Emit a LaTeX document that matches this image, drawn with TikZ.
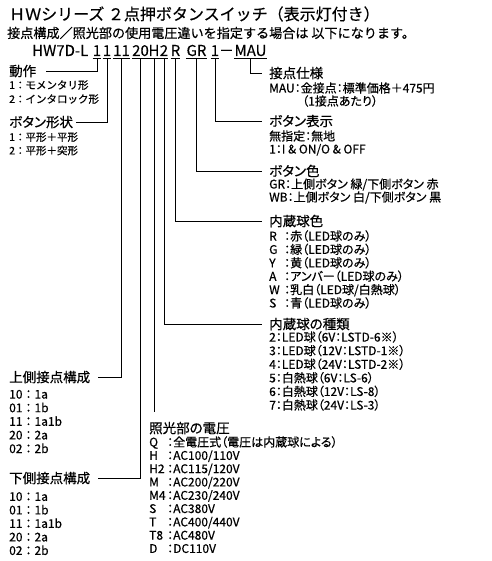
\documentclass[tikz,border=0pt]{standalone}
\usepackage{fontspec}
\setmainfont{Noto Sans CJK JP}[FakeBold=0.5]
\newfontfamily\jpprop{Noto Sans CJK JP}[RawFeature=+palt, FakeBold=0.5]
\newfontfamily\codefont{Noto Sans CJK JP}[FakeBold=0.2]
\usetikzlibrary{positioning}

\newcommand\colkey[2]{\makebox[#1][l]{#2}}

\tikzset{
  hdr/.style={anchor=west, inner sep=0pt, font=\jpprop\fontsize{13.5}{16}\selectfont, text height=11.9pt, text depth=1.6pt},
  itm/.style={anchor=west, inner sep=0pt, font=\fontsize{10.5}{13}\selectfont, text height=9.2pt, text depth=1.3pt},
  citm/.style={itm, font=\fontsize{12}{14}\selectfont, text height=9.6pt, text depth=1.4pt},
  ritm/.style={anchor=west, inner sep=0pt, font=\jpprop\fontsize{12}{14}\selectfont, text height=10.5pt, text depth=1.4pt},
  code/.style={anchor=base, inner xsep=0pt, inner ysep=2.5pt, text depth=0pt, font=\codefont\fontsize{15}{18}\selectfont},
  lead/.style={line width=0.9pt},
}

\begin{document}
\begin{tikzpicture}[x=1pt, y=-1pt]
\useasboundingbox (0,0) rectangle (491,561);

% title lines
\node[anchor=west, inner sep=0pt, font=\fontsize{16}{18}\selectfont] (title) at (9,14) {ＨＷシリーズ ２点押ボタンスイッチ（表示灯付き）};
\node[anchor=west, inner sep=0pt, font=\fontsize{13.1}{15}\selectfont] (note) at (7,33) {接点構成／照光部の使用電圧違いを指定する場合は 以下になります。};

% order code
\node[code, anchor=base west] (model) at (32,56) {HW7D-L};
\node[code, minimum width=8pt] (cOp) at (97,56) {1};
\node[code, minimum width=8pt] (cShape) at (107,56) {1};
\node[code, minimum width=17pt] (cUp) at (121.5,56) {11};
\node[code, minimum width=17pt] (cLow) at (140.5,56) {20};
\node[code, minimum width=8pt] (cVolt) at (154,56) {H};
\node[code, minimum width=8pt] (cType) at (164,56) {2};
\node[code, minimum width=9pt] (cColor) at (175.5,56) {R};
\node[code, minimum width=21pt] (cBtn) at (196.5,56) {GR};
\node[code, minimum width=8pt] (cMark) at (215,56) {1};
\node[code] (dash) at (226.5,56) {－};
\node[code, minimum width=33pt] (cSpec) at (250.5,56) {MAU};
\foreach \n in {cOp,cShape,cUp,cLow,cVolt,cType,cColor,cBtn,cMark,cSpec}
  \draw[lead] (\n.south west) -- (\n.south east);

% left side
\node[hdr] (opHdr) at (9,71) {動作};
\foreach \t [count=\i from 0] in {1：モメンタリ形, 2：インタロック形}
  \node[itm] (op-\i) at (9,85+14*\i) {\t};
\node[hdr] (shapeHdr) at (9,122) {ボタン形状};
\foreach \t [count=\i from 0] in {1：平形＋平形, 2：平形＋突形}
  \node[itm] (shape-\i) at (9,137+13.5*\i) {\t};
\node[hdr] (upHdr) at (9,377) {上側接点構成};
\foreach \t [count=\i from 0] in {10：1a, 01：1b, 11：1a1b, 20：2a, 02：2b}
  \node[citm] (up-\i) at (9,394.5+13.6*\i) {\t};
\node[hdr] (lowHdr) at (9,478) {下側接点構成};
\foreach \t [count=\i from 0] in {10：1a, 01：1b, 11：1a1b, 20：2a, 02：2b}
  \node[citm] (low-\i) at (9,496.8+13.5*\i) {\t};

% lamp voltage
\node[hdr] (voltHdr) at (149,428) {照光部の電圧};
\foreach \t [count=\i from 0] in {{\colkey{18pt}{Q}：全電圧式（電圧は内蔵球による）},
    {\colkey{18pt}{H}：AC100/110V}, {\colkey{18pt}{H2}：AC115/120V},
    {\colkey{18pt}{M}：AC200/220V}, {\colkey{18pt}{M4}：AC230/240V},
    {\colkey{18pt}{S}：AC380V}, {\colkey{18pt}{T}：AC400/440V},
    {\colkey{18pt}{T8}：AC480V}, {\colkey{18pt}{D}：DC110V}}
  \node[ritm] (volt-\i) at (149,442+13.3*\i) {\t};

% right side
\node[hdr] (specHdr) at (269,73) {接点仕様};
\node[ritm] (spec-0) at (269,88) {MAU：金接点：標準価格＋475円};
\node[ritm] (spec-1) at (302,101) {（1接点あたり）};
\node[hdr] (markHdr) at (269,121) {ボタン表示};
\node[ritm] (mark-0) at (269,136) {無指定：無地};
\node[ritm] (mark-1) at (269,149) {1：I \& ON/O \& OFF};
\node[hdr] (btnHdr) at (269,171) {ボタン色};
\node[ritm] (btn-0) at (269,184) {GR：上側ボタン 緑/下側ボタン 赤};
\node[ritm] (btn-1) at (269,197) {WB：上側ボタン 白/下側ボタン 黒};
\node[hdr] (colorHdr) at (269,221) {内蔵球色};
\foreach \t [count=\i from 0] in {{\colkey{15pt}{R}：赤（LED球のみ）}, {\colkey{15pt}{G}：緑（LED球のみ）},
    {\colkey{15pt}{Y}：黄（LED球のみ）}, {\colkey{15pt}{A}：アンバー（LED球のみ）},
    {\colkey{15pt}{W}：乳白（LED球/白熱球）}, {\colkey{15pt}{S}：青（LED球のみ）}}
  \node[ritm] (color-\i) at (269,236+13.4*\i) {\t};
\node[hdr] (typeHdr) at (269,324) {内蔵球の種類};
\foreach \t [count=\i from 0] in {2：LED球（6V：LSTD-6※）, 3：LED球（12V：LSTD-1※）,
    4：LED球（24V：LSTD-2※）, 5：白熱球（6V：LS-6）, 6：白熱球（12V：LS-8）, 7：白熱球（24V：LS-3）}
  \node[ritm] (type-\i) at (269,337+13.6*\i) {\t};

% leaders
\draw[lead] (cOp.south) |- ([xshift=10pt]opHdr.east);
\draw[lead] (cShape.south) |- ([xshift=3pt]shapeHdr.east);
\draw[lead] (cUp.south) |- ([xshift=8pt]upHdr.east);
\draw[lead] (cLow.south) |- ([xshift=8pt]lowHdr.east);
\draw[lead, shorten >=9pt] (cVolt.south) -- (cVolt.south |- voltHdr.north);
\draw[lead] (cType.south) |- ([xshift=-7pt]typeHdr.west);
\draw[lead] (cColor.south) |- ([xshift=-7pt]colorHdr.west);
\draw[lead] (cBtn.south) |- ([xshift=-7pt]btnHdr.west);
\draw[lead] (cMark.south) |- ([xshift=-7pt]markHdr.west);
\draw[lead] (cSpec.south) |- ([xshift=-7pt]specHdr.west);
\end{tikzpicture}
\end{document}
